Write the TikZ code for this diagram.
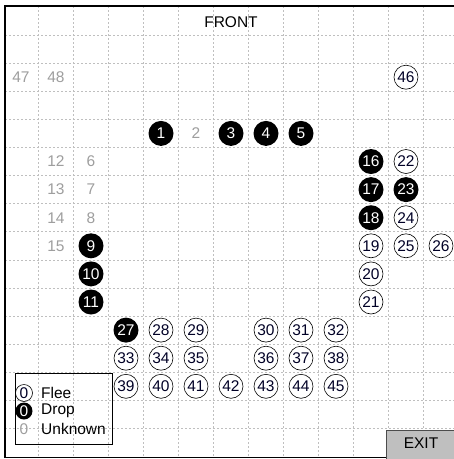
\documentclass[tikz,border=0pt]{standalone}
\usepackage{fontspec}
\setmainfont{Liberation Sans}
\begin{document}
\begin{tikzpicture}[x=1pt,y=-1pt,
  gridline/.style={draw=black!25, line width=0.6pt, dash pattern=on 2pt off 2pt},
  frameline/.style={draw=black, line width=1.2pt},
  txt/.style={font=\fontsize{15.5}{17}\selectfont, inner sep=0pt},
  flee/.style={txt, circle, draw=black, line width=0.6pt, fill=white, minimum size=24pt, text=black!85!blue},
  drop/.style={txt, circle, fill=black, text=white, minimum size=25pt},
  unk/.style={txt, text=black!38},
  lflee/.style={txt, circle, draw=black, line width=0.6pt, minimum size=17pt, text=black!85!blue},
  ldrop/.style={txt, circle, fill=black, text=white, minimum size=17pt},
  exitbox/.style={fill=black!25, draw=black!70, line width=0.8pt}]
\useasboundingbox (0,0) rectangle (454,459);
\fill[white] (0,0) rectangle (454,459);
% grid
\foreach \k in {0,...,11} \draw[gridline] ({38.5+35*\k},6) -- ({38.5+35*\k},457);
\foreach \r in {0,...,14} \draw[gridline] (5,{35+28.1*\r}) -- (454,{35+28.1*\r});
% frame
\draw[frameline] (454,6) -- (5,6) -- (5,457.5) -- (454,457.5);
% title
\node[txt] (front) at (231,22) {FRONT};
% unknown seats
\foreach \n/\c/\r in {47/0/2,48/1/2,2/5/4,12/1/5,6/2/5,13/1/6,7/2/6,14/1/7,8/2/7,15/1/8}
  \node[unk] (s\n) at ({21+35*\c},{21+28.1*\r}) {\n};
% drop seats
\foreach \n/\c/\r in {1/4/4,3/6/4,4/7/4,5/8/4,16/10/5,17/10/6,23/11/6,18/10/7,9/2/8,10/2/9,11/2/10,27/3/11}
  \node[drop] (s\n) at ({21+35*\c},{21+28.1*\r}) {\n};
% flee seats
\foreach \n/\c/\r in {46/11/2,22/11/5,24/11/7,19/10/8,25/11/8,26/12/8,20/10/9,21/10/10,
  28/4/11,29/5/11,30/7/11,31/8/11,32/9/11,33/3/12,34/4/12,35/5/12,36/7/12,37/8/12,38/9/12,
  39/3/13,40/4/13,41/5/13,42/6/13,43/7/13,44/8/13,45/9/13}
  \node[flee] (s\n) at ({21+35*\c},{21+28.1*\r}) {\n};
% legend
\draw[black, line width=0.8pt] (15,373) rectangle (112,444);
\node[lflee] (lf) at (24,393) {0};
\node[ldrop] (ld) at (24,411) {0};
\node[unk] (lu) at (24,429) {0};
\node[txt, anchor=west] (lft) at (41,393) {Flee};
\node[txt, anchor=west] (ldt) at (41,411) {Drop};
\node[txt, anchor=west] (lut) at (41,429) {Unknown};
% exit
\draw[exitbox] (386.5,430) rectangle (456,460);
\node[txt] (exit) at (421,443.5) {EXIT};
\end{tikzpicture}
\end{document}
